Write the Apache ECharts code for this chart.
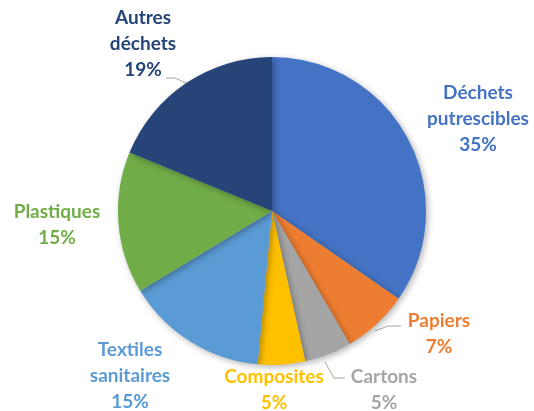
<!DOCTYPE html>
<html>
<head>
<meta charset="utf-8">
<script src="https://cdn.jsdelivr.net/npm/echarts@6/dist/echarts.min.js"></script>
<style>
  html, body { margin: 0; padding: 0; background: #fff; }
  #chart { width: 534px; height: 411px; }
</style>
</head>
<body>
<div id="chart"></div>
<script>
const categories = ['Déchets\nputrescibles', 'Papiers', 'Cartons', 'Composites', 'Textiles\nsanitaires', 'Plastiques', 'Autres\ndéchets']
const percents = [35, 7, 5, 5, 15, 15, 19]
const colors = ['#4472C4', '#ED7D31', '#A5A5A5', '#FFC000', '#5B9BD5', '#70AD47', '#264478']
// label centres (px) and leader lines (null = no line)
const labelPos = [[478, 119], [439, 334], [384, 390], [274, 390], [130, 376], [57, 225], [143, 44]]
const leaderLines = [
    null,
    [[401, 326], [388, 326], [375, 331]],
    [[345, 378], [334, 378], [325, 362]],
    null, null, null,
    [[166, 78], [175, 78], [188, 84]]
]

const chart = echarts.init(document.getElementById('chart'))
chart.setOption({
    animation: false,
    series: [{
        type: 'pie',
        center: [272, 211],
        radius: 154,
        startAngle: 90,
        clockwise: true,
        itemStyle: {
            shadowBlur: 6,
            shadowOffsetX: 2,
            shadowOffsetY: 2,
            shadowColor: 'rgba(0, 0, 0, 0.3)'
        },
        label: {
            position: 'outside',
            formatter: p => p.name + '\n' + p.value + '%',
            fontFamily: 'Lato',
            fontWeight: 'bold',
            fontSize: 19,
            lineHeight: 26,
            align: 'center',
            overflow: 'none'
        },
        labelLine: {
            lineStyle: { color: '#A6A6A6', width: 1 }
        },
        labelLayout: p => {
            const out = {
                x: labelPos[p.dataIndex][0],
                y: labelPos[p.dataIndex][1],
                align: 'center',
                verticalAlign: 'middle'
            }
            if (leaderLines[p.dataIndex]) out.labelLinePoints = leaderLines[p.dataIndex]
            return out
        },
        emphasis: { disabled: true },
        data: categories.map((c, i) => ({
            name: c,
            value: percents[i],
            itemStyle: { color: colors[i] },
            label: { color: colors[i] },
            labelLine: { show: !!leaderLines[i] }
        }))
    }]
})
</script>
</body>
</html>
